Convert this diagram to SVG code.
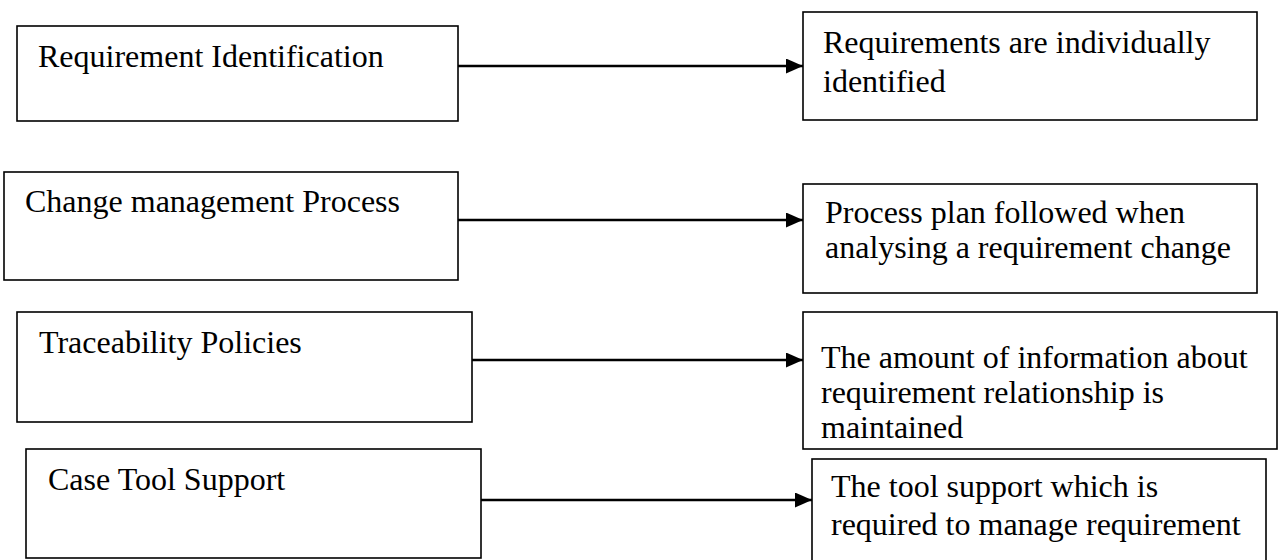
<svg xmlns="http://www.w3.org/2000/svg" width="1279" height="560" viewBox="0 0 1279 560">
<style>
.box{fill:#fff;stroke:#000;stroke-width:1.6}
.t{font-family:"Liberation Serif","Times New Roman",serif;font-size:32px;fill:#000}
.c{stroke:#000;stroke-width:2.4;fill:none;marker-end:url(#ah)}
</style>
<defs>
<marker id="ah" markerUnits="userSpaceOnUse" markerWidth="18" markerHeight="16" refX="17" refY="7.5" orient="auto">
<path d="M0,0 L17,7.5 L0,15 Z" fill="#000"/>
</marker>
</defs>
<rect width="1279" height="560" fill="#fff"/>
<g id="n-req-id"><rect class="box" x="17" y="26" width="441" height="95"/><text class="t" x="38" y="67">Requirement Identification</text></g>
<g id="n-req-id-desc"><rect class="box" x="803" y="12" width="454" height="108"/><text class="t" x="823" y="53">Requirements are individually</text><text class="t" x="823" y="92">identified</text></g>
<g id="n-change"><rect class="box" x="4" y="172" width="454" height="108"/><text class="t" x="25" y="212">Change management Process</text></g>
<g id="n-change-desc"><rect class="box" x="803" y="184" width="454" height="109"/><text class="t" x="825" y="223">Process plan followed when</text><text class="t" x="825" y="258">analysing a requirement change</text></g>
<g id="n-trace"><rect class="box" x="17" y="312" width="455" height="110"/><text class="t" x="39" y="353">Traceability Policies</text></g>
<g id="n-trace-desc"><rect class="box" x="803" y="312" width="474" height="137"/><text class="t" x="821" y="368">The amount of information about</text><text class="t" x="821" y="403">requirement relationship is</text><text class="t" x="821" y="438">maintained</text></g>
<g id="n-case"><rect class="box" x="26" y="449" width="455" height="109"/><text class="t" x="48" y="490">Case Tool Support</text></g>
<g id="n-case-desc"><rect class="box" x="812" y="459" width="454" height="110"/><text class="t" x="831" y="497">The tool support which is</text><text class="t" x="831" y="535">required to manage requirement</text></g>
<g id="connectors">
<line class="c" x1="458" y1="66" x2="803" y2="66"/>
<line class="c" x1="458" y1="220" x2="803" y2="220"/>
<line class="c" x1="472" y1="360" x2="803" y2="360"/>
<line class="c" x1="481" y1="500" x2="812" y2="500"/>
</g>
</svg>
